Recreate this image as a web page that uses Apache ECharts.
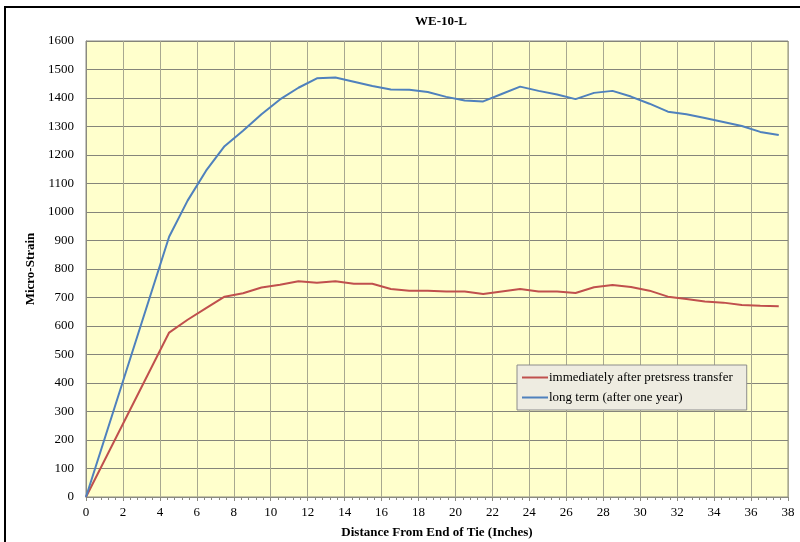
<!DOCTYPE html>
<html>
<head>
<meta charset="utf-8">
<script src="https://cdn.jsdelivr.net/npm/echarts@6/dist/echarts.min.js"></script>
<style>html,body{margin:0;padding:0;background:#fff;}#c{width:800px;height:542px;}</style>
</head>
<body>
<div id="c"></div>
<script>
const title = 'WE-10-L';
const xName = 'Distance From End of Tie (Inches)';
const yName = 'Micro-Strain';
const distances = [0, 4.5, 5.5, 6.5, 7.5, 8.5, 9.5, 10.5, 11.5, 12.5, 13.5, 14.5, 15.5, 16.5, 17.5, 18.5, 19.5, 20.5, 21.5, 22.5, 23.5, 24.5, 25.5, 26.5, 27.5, 28.5, 29.5, 30.5, 31.5, 32.5, 33.5, 34.5, 35.5, 36.5, 37.5];
const immediate = [0, 577, 622, 663, 703, 715, 735, 745, 757, 752, 757, 748, 748, 730, 724, 724, 721, 721, 712, 721, 730, 721, 721, 716, 736, 744, 737, 724, 703, 695, 686, 682, 674, 671, 669];
const longTerm = [0, 913, 1040, 1145, 1231, 1285, 1343, 1395, 1436, 1469, 1472, 1457, 1442, 1430, 1429, 1421, 1404, 1391, 1388, 1414, 1440, 1425, 1412, 1396, 1418, 1425, 1405, 1380, 1352, 1343, 1330, 1316, 1302, 1281, 1270];
const seriesNames = ['immediately after pretsress transfer', 'long term (after one year)'];

const font = 'Liberation Serif, Times New Roman, serif';
const chart = echarts.init(document.getElementById('c'), null, {renderer: 'canvas'});
const pairs = ys => distances.map((x, i) => [x, ys[i]]);
chart.setOption({
  animation: false,
  backgroundColor: '#ffffff',
  title: {
    text: title, left: 436, top: 10, textAlign: 'center',
    textStyle: {fontFamily: font, fontSize: 13, fontWeight: 'bold', color: '#000'}
  },
  graphic: [{
    type: 'rect', shape: {x: 5, y: 7, width: 820, height: 560},
    style: {fill: 'none', stroke: '#000', lineWidth: 2}, silent: true, z: 100
  }],
  grid: {left: 86, right: 12, top: 41, bottom: 45, containLabel: false, outerBoundsMode: 'none',
         show: true, backgroundColor: '#FFFFCC', borderColor: '#8a8a80', borderWidth: 1},
  legend: {
    orient: 'vertical', left: 517, top: 365,
    backgroundColor: '#EEECE1', borderColor: '#8c8c8c', borderWidth: 1,
    padding: [6, 14, 6, 5], itemGap: 7, itemWidth: 26, itemHeight: 2, icon: 'rect',
    textStyle: {fontFamily: font, fontSize: 13, color: '#000', padding: [0, 0, 0, -4]},
    data: seriesNames
  },
  xAxis: {
    type: 'value', min: 0, max: 38, interval: 2,
    name: xName, nameLocation: 'middle', nameGap: 29,
    nameTextStyle: {fontFamily: font, fontSize: 13, fontWeight: 'bold', color: '#000'},
    axisLine: {show: true, lineStyle: {color: '#8a8a80'}},
    axisTick: {show: true, length: 4, lineStyle: {color: '#8a8a80'}},
    minorTick: {show: true, splitNumber: 5, length: 3, lineStyle: {color: '#8a8a80'}},
    axisLabel: {fontFamily: font, fontSize: 13, color: '#000', margin: 9},
    splitLine: {show: true, lineStyle: {color: '#a8a890', width: 1}}
  },
  yAxis: {
    type: 'value', min: 0, max: 1600, interval: 100,
    name: yName, nameLocation: 'middle', nameGap: 40, nameRotate: 90,
    nameTextStyle: {fontFamily: font, fontSize: 13, fontWeight: 'bold', color: '#000'},
    axisLine: {show: true, lineStyle: {color: '#8a8a80'}},
    axisTick: {show: false},
    axisLabel: {fontFamily: font, fontSize: 13, color: '#000', margin: 12, formatter: v => String(v)},
    splitLine: {show: true, lineStyle: {color: '#85857a', width: 1}}
  },
  series: [
    {name: seriesNames[0], type: 'line', data: pairs(immediate), showSymbol: false, symbol: 'none',
     lineStyle: {color: '#C0504D', width: 2}, itemStyle: {color: '#C0504D'}},
    {name: seriesNames[1], type: 'line', data: pairs(longTerm), showSymbol: false, symbol: 'none',
     lineStyle: {color: '#4F81BD', width: 2}, itemStyle: {color: '#4F81BD'}}
  ]
});
</script>
</body>
</html>
